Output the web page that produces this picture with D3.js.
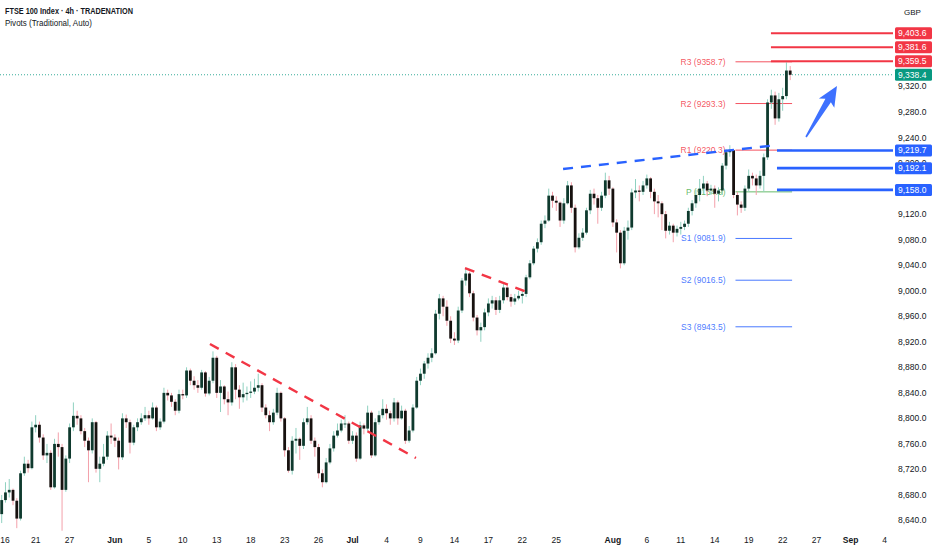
<!DOCTYPE html>
<html>
<head>
<meta charset="utf-8">
<script src="https://cdn.jsdelivr.net/npm/d3@7"></script>
<style>
  html, body { margin: 0; padding: 0; background: #fff; }
  svg { display: block; font-family: "Liberation Sans", Arial, sans-serif; }
</style>
</head>
<body>
<script>
const W = 932, H = 550;
const plotRight = 893; // price axis starts here
const plotBottom = 532; // time axis starts here

// trading days on the time axis (26 May bank holiday is skipped)
const firstDay = "2025-05-16";
const lastDay = "2025-09-05";
const skipDays = ["2025-05-26"];
const barsPerDay = 3; // 4h bars

// 4h candles from 16 May to 22 Aug, each bar opens at the previous close
const firstOpen = 8650;
const closes = [
  8672, 8684, 8688, 8671, 8643, 8714, 8729, 8722, 8786, 8790,
  8770, 8742, 8746, 8692, 8760, 8755, 8688, 8737, 8786, 8804,
  8800, 8780, 8765, 8750, 8794, 8721, 8729, 8740, 8773, 8770,
  8765, 8739, 8800, 8794, 8762, 8786, 8794, 8800, 8805, 8800,
  8817, 8786, 8795, 8840, 8836, 8826, 8812, 8838, 8836, 8875,
  8859, 8852, 8848, 8872, 8839, 8859, 8895, 8840, 8850, 8830,
  8825, 8880, 8845, 8833, 8838, 8840, 8842, 8848, 8852, 8817,
  8805, 8794, 8809, 8840, 8800, 8750, 8718, 8765, 8768, 8757,
  8794, 8800, 8765, 8755, 8714, 8700, 8731, 8753, 8773, 8781,
  8792, 8792, 8765, 8773, 8737, 8789, 8784, 8809, 8742, 8794,
  8805, 8815, 8808, 8800, 8825, 8800, 8812, 8765, 8781, 8817,
  8859, 8870, 8886, 8895, 8902, 8964, 8988, 8975, 8953, 8925,
  8922, 8969, 9016, 9027, 8996, 8958, 8938, 8943, 8966, 8980,
  8985, 8970, 8985, 9005, 8990, 8983, 8988, 8992, 8995, 9021,
  9043, 9066, 9076, 9105, 9110, 9149, 9141, 9138, 9110, 9137,
  9165, 9130, 9068, 9083, 9091, 9126, 9152, 9145, 9130, 9149,
  9173, 9160, 9107, 9091, 9043, 9094, 9099, 9154, 9157, 9155,
  9165, 9176, 9155, 9140, 9137, 9120, 9094, 9102, 9091, 9097,
  9100, 9105, 9125, 9137, 9150, 9160, 9168, 9157, 9160, 9152,
  9157, 9196, 9217, 9220, 9150, 9135, 9130, 9160, 9180, 9176,
  9165, 9180, 9209, 9295, 9306, 9270, 9300, 9305, 9345, 9338.4
];
const highs = [
  8680, 8700, 8705, 8690, 8675, 8718, 8740, 8735, 8795, 8805,
  8795, 8775, 8760, 8750, 8768, 8778, 8760, 8742, 8792, 8825,
  8812, 8805, 8785, 8770, 8800, 8796, 8740, 8760, 8780, 8792,
  8775, 8770, 8808, 8806, 8798, 8790, 8800, 8808, 8818, 8812,
  8825, 8820, 8800, 8848, 8845, 8840, 8830, 8845, 8845, 8880,
  8878, 8866, 8860, 8876, 8874, 8865, 8905, 8898, 8860, 8852,
  8842, 8888, 8885, 8852, 8856, 8850, 8858, 8862, 8870, 8855,
  8822, 8812, 8815, 8848, 8842, 8802, 8755, 8772, 8785, 8770,
  8800, 8818, 8805, 8770, 8760, 8720, 8738, 8760, 8780, 8792,
  8798, 8805, 8795, 8780, 8778, 8795, 8792, 8820, 8812, 8800,
  8812, 8830, 8822, 8812, 8832, 8828, 8820, 8815, 8788, 8822,
  8865, 8878, 8890, 8902, 8910, 8970, 8995, 8992, 8985, 8960,
  8935, 8975, 9020, 9035, 9030, 9000, 8962, 8950, 8972, 8988,
  8992, 8990, 8992, 9012, 9010, 8995, 8995, 9000, 9002, 9025,
  9048, 9070, 9082, 9110, 9118, 9160, 9155, 9148, 9140, 9145,
  9172, 9170, 9135, 9090, 9098, 9130, 9158, 9160, 9150, 9155,
  9185, 9180, 9162, 9112, 9095, 9100, 9110, 9160, 9175, 9165,
  9172, 9182, 9178, 9160, 9150, 9140, 9125, 9108, 9105, 9102,
  9108, 9110, 9130, 9142, 9158, 9175, 9180, 9172, 9166, 9165,
  9162, 9200, 9222, 9228, 9222, 9155, 9140, 9165, 9190, 9185,
  9182, 9188, 9215, 9300, 9315, 9312, 9310, 9318, 9358, 9352
];
const lows = [
  8636, 8668, 8676, 8664, 8628, 8640, 8710, 8715, 8720, 8778,
  8762, 8735, 8730, 8688, 8690, 8740, 8624, 8685, 8730, 8780,
  8790, 8775, 8755, 8700, 8745, 8715, 8700, 8725, 8735, 8760,
  8755, 8720, 8735, 8785, 8745, 8758, 8780, 8790, 8796, 8790,
  8798, 8780, 8782, 8792, 8828, 8818, 8805, 8808, 8830, 8832,
  8852, 8845, 8840, 8845, 8834, 8836, 8855, 8832, 8810, 8822,
  8805, 8820, 8830, 8815, 8825, 8828, 8832, 8838, 8842, 8810,
  8800, 8780, 8790, 8805, 8795, 8740, 8715, 8712, 8745, 8735,
  8752, 8790, 8760, 8740, 8706, 8692, 8698, 8728, 8748, 8770,
  8778, 8785, 8760, 8760, 8732, 8735, 8775, 8780, 8738, 8740,
  8790, 8800, 8798, 8790, 8795, 8790, 8798, 8760, 8762, 8778,
  8815, 8852, 8862, 8878, 8888, 8900, 8955, 8960, 8945, 8918,
  8915, 8918, 8965, 9008, 8990, 8952, 8930, 8920, 8938, 8960,
  8972, 8962, 8965, 8980, 8985, 8975, 8978, 8985, 8980, 8990,
  9018, 9040, 9060, 9072, 9098, 9108, 9130, 9125, 9100, 9105,
  9135, 9122, 9060, 9065, 9078, 9088, 9120, 9135, 9105, 9125,
  9145, 9150, 9100, 9060, 9035, 9040, 9080, 9095, 9145, 9140,
  9150, 9160, 9145, 9120, 9115, 9095, 9082, 9088, 9076, 9085,
  9088, 9095, 9100, 9118, 9130, 9140, 9152, 9148, 9150, 9130,
  9140, 9150, 9190, 9210, 9145, 9118, 9122, 9125, 9155, 9165,
  9150, 9160, 9155, 9205, 9285, 9260, 9265, 9282, 9300, 9330
];

const tickDays = [
  "2025-05-16", "2025-05-21", "2025-05-27", "2025-06-02", "2025-06-05",
  "2025-06-10", "2025-06-13", "2025-06-18", "2025-06-23", "2025-06-26",
  "2025-07-01", "2025-07-04", "2025-07-09", "2025-07-14", "2025-07-17",
  "2025-07-22", "2025-07-25", "2025-08-01", "2025-08-06", "2025-08-11",
  "2025-08-14", "2025-08-19", "2025-08-22", "2025-08-27", "2025-09-01",
  "2025-09-04"
];
const tickLabels = [
  "16", "21", "27", "Jun", "5", "10", "13", "18", "23", "26",
  "Jul", "4", "9", "14", "17", "22", "25", "Aug", "6", "11",
  "14", "19", "22", "27", "Sep", "4"
];
// price scale labels not hidden behind the level boxes
const priceTicks = [
  8640, 8680, 8720, 8760, 8800, 8840, 8880, 8920, 8960, 9000,
  9040, 9080, 9120, 9200, 9240, 9280, 9320
];

// weekly pivots (Traditional, Auto)
const pivotNames = ["R3", "R2", "R1", "P", "S1", "S2", "S3"];
const pivotValues = [9358.7, 9293.3, 9220.3, 9154.9, 9081.9, 9016.5, 8943.5];
const pivotStartDay = "2025-08-18";
const pivotEndDay = "2025-08-25";

// drawn levels
const resistLevels = [9403.6, 9381.6, 9359.5];
const supportLevels = [9219.7, 9192.1, 9158.0];
const lastPrice = 9338.4;

// drawn trend lines: [bar, price] pairs
const blueTrend = [[148.8, 9190.7], [205.5, 9228.3]];
const redTrends = [
  [[55.2, 8916.5], [109.8, 8737.9]],
  [[122.8, 9035.6], [140.5, 8994.9]]
];
const arrowFrom = [213.2, 9240.9];
const arrowTo = [221.4, 9320.8];

const RED = "#f23645", BLUE = "#2962ff", GREEN = "#089981";

/* ---------- time index ---------- */
const parse = d3.timeParse("%Y-%m-%d");
const fmt = d3.timeFormat("%Y-%m-%d");
const tradingDays = d3.timeDay
  .range(parse(firstDay), d3.timeDay.offset(parse(lastDay), 1))
  .filter((d) => d.getDay() !== 0 && d.getDay() !== 6 && !skipDays.includes(fmt(d)))
  .map(fmt);
const dayBar = (day) => tradingDays.indexOf(day) * barsPerDay;

const x = d3.scaleLinear().domain([-0.45, 236.25]).range([0, plotRight]);
const y = d3.scaleLinear().domain([8640, 9320]).range([520.5, 86.5]);

const candles = closes.map((c, i) => ({
  i,
  o: i ? closes[i - 1] : firstOpen,
  h: highs[i],
  l: lows[i],
  c,
}));

const svg = d3.select("body").append("svg").attr("width", W).attr("height", H);

svg.append("defs").append("clipPath").attr("id", "plotClip")
  .append("rect").attr("x", 0).attr("y", 0).attr("width", plotRight).attr("height", plotBottom);

const plot = svg.append("g").attr("clip-path", "url(#plotClip)");

/* ---------- pivots ---------- */
const pivotColor = (n) => (n[0] === "R" ? RED : n[0] === "S" ? BLUE : "#4caf50");
const pvX0 = x(dayBar(pivotStartDay) - 0.5);
const pvX1 = x(dayBar(pivotEndDay) - 0.5);
const pivots = plot.append("g");
pivots.selectAll("line").data(pivotValues).join("line")
  .attr("x1", pvX0).attr("x2", pvX1)
  .attr("y1", (d) => y(d)).attr("y2", (d) => y(d))
  .attr("stroke", (d, i) => pivotColor(pivotNames[i]))
  .attr("stroke-opacity", 0.85)
  .attr("stroke-width", 1);
pivots.selectAll("text").data(pivotValues).join("text")
  .attr("x", pvX0 - 10).attr("y", (d) => y(d)).attr("dy", "0.35em")
  .attr("text-anchor", "end")
  .attr("font-size", 8.5)
  .attr("fill", (d, i) => pivotColor(pivotNames[i]))
  .attr("fill-opacity", 0.85)
  .text((d, i) => `${pivotNames[i]} (${d.toFixed(1)})`);

/* ---------- current price line ---------- */
plot.append("line")
  .attr("x1", 0).attr("x2", plotRight)
  .attr("y1", y(lastPrice)).attr("y2", y(lastPrice))
  .attr("stroke", GREEN).attr("stroke-width", 1)
  .attr("stroke-dasharray", "1,2").attr("stroke-opacity", 0.8);

/* ---------- candles ---------- */
const bars = plot.append("g");
bars.selectAll("line").data(candles).join("line")
  .attr("x1", (d) => x(d.i)).attr("x2", (d) => x(d.i))
  .attr("y1", (d) => y(d.h)).attr("y2", (d) => y(d.l))
  .attr("stroke", (d) => (d.c >= d.o ? "#8fd1c0" : "#f3a0aa"))
  .attr("stroke-width", 1);
bars.selectAll("rect").data(candles).join("rect")
  .attr("x", (d) => x(d.i) - 1.4)
  .attr("width", 2.8)
  .attr("y", (d) => y(Math.max(d.o, d.c)))
  .attr("height", (d) => Math.max(1, Math.abs(y(d.o) - y(d.c))))
  .attr("fill", (d) => (d.c >= d.o ? "#0f3a2e" : "#17110f"));

/* ---------- trend lines ---------- */
const trendLine = d3.line().x((p) => x(p[0])).y((p) => y(p[1]));
plot.append("path").attr("d", trendLine(blueTrend))
  .attr("stroke", BLUE).attr("stroke-width", 2.4).attr("fill", "none")
  .attr("stroke-dasharray", "10,8");
plot.selectAll(".redTrend").data(redTrends).join("path")
  .attr("class", "redTrend")
  .attr("d", trendLine)
  .attr("stroke", RED).attr("stroke-width", 2.4).attr("fill", "none")
  .attr("stroke-dasharray", "10,8");

/* ---------- horizontal levels ---------- */
plot.selectAll(".resist").data(resistLevels).join("line")
  .attr("class", "resist")
  .attr("x1", x(203.9)).attr("x2", plotRight)
  .attr("y1", (d) => y(d)).attr("y2", (d) => y(d))
  .attr("stroke", RED).attr("stroke-width", 2);
plot.selectAll(".support").data(supportLevels).join("line")
  .attr("class", "support")
  .attr("x1", x(205.5)).attr("x2", plotRight)
  .attr("y1", (d) => y(d)).attr("y2", (d) => y(d))
  .attr("stroke", BLUE).attr("stroke-width", 2.6);

/* ---------- arrow ---------- */
{
  const tx = x(arrowFrom[0]), ty = y(arrowFrom[1]);
  const hx = x(arrowTo[0]), hy = y(arrowTo[1]);
  const len = Math.hypot(hx - tx, hy - ty);
  const ux = (hx - tx) / len, uy = (hy - ty) / len;
  const nx = -uy, ny = ux;
  const pt = (along, side) => [tx + ux * along + nx * side, ty + uy * along + ny * side];
  const pts = [
    pt(0, -0.8), pt(len - 17, -3.2), pt(len - 20, -9), pt(len, 0),
    pt(len - 20, 9), pt(len - 17, 3.2), pt(0, 0.8),
  ];
  plot.append("polygon").attr("points", pts.map((p) => p.join(",")).join(" "))
    .attr("fill", BLUE).attr("fill-opacity", 0.9);
}

/* ---------- price axis ---------- */
const axisG = svg.append("g");
axisG.selectAll("text").data(priceTicks).join("text")
  .attr("x", 898).attr("y", (d) => y(d)).attr("dy", "0.35em")
  .attr("font-size", 8.5).attr("fill", "#131722")
  .text((d) => d3.format(",.1f")(d));

const boxes = [
  ...resistLevels.map((v) => ({ v, c: RED })),
  { v: lastPrice, c: GREEN },
  ...supportLevels.map((v) => ({ v, c: BLUE })),
];
const boxG = svg.append("g");
boxG.selectAll("rect").data(boxes).join("rect")
  .attr("x", 895).attr("width", 37)
  .attr("y", (d) => y(d.v) - 6).attr("height", 12)
  .attr("rx", 1.5)
  .attr("fill", (d) => d.c);
boxG.selectAll("text").data(boxes).join("text")
  .attr("x", 898).attr("y", (d) => y(d.v)).attr("dy", "0.35em")
  .attr("font-size", 8.5).attr("fill", "#fff")
  .text((d) => d3.format(",.1f")(d.v));

svg.append("text").attr("x", 904).attr("y", 15)
  .attr("font-size", 8).attr("fill", "#131722").text("GBP");

/* ---------- time axis ---------- */
svg.append("g").selectAll("text").data(tickDays).join("text")
  .attr("x", (d) => Math.max(5, x(dayBar(d)))).attr("y", 543)
  .attr("text-anchor", "middle")
  .attr("font-size", 8.5)
  .attr("font-weight", (d, i) => (isNaN(+tickLabels[i]) ? "bold" : "normal"))
  .attr("fill", "#131722")
  .text((d, i) => tickLabels[i]);

/* ---------- legend ---------- */
svg.append("text").attr("x", 5).attr("y", 14)
  .attr("font-size", 9).attr("font-weight", "bold").attr("fill", "#131722")
  .attr("textLength", 128).attr("lengthAdjust", "spacingAndGlyphs")
  .text("FTSE 100 Index · 4h · TRADENATION");
svg.append("text").attr("x", 5).attr("y", 25.5)
  .attr("font-size", 9).attr("fill", "#131722")
  .attr("textLength", 87).attr("lengthAdjust", "spacingAndGlyphs")
  .text("Pivots (Traditional, Auto)");
</script>
</body>
</html>
